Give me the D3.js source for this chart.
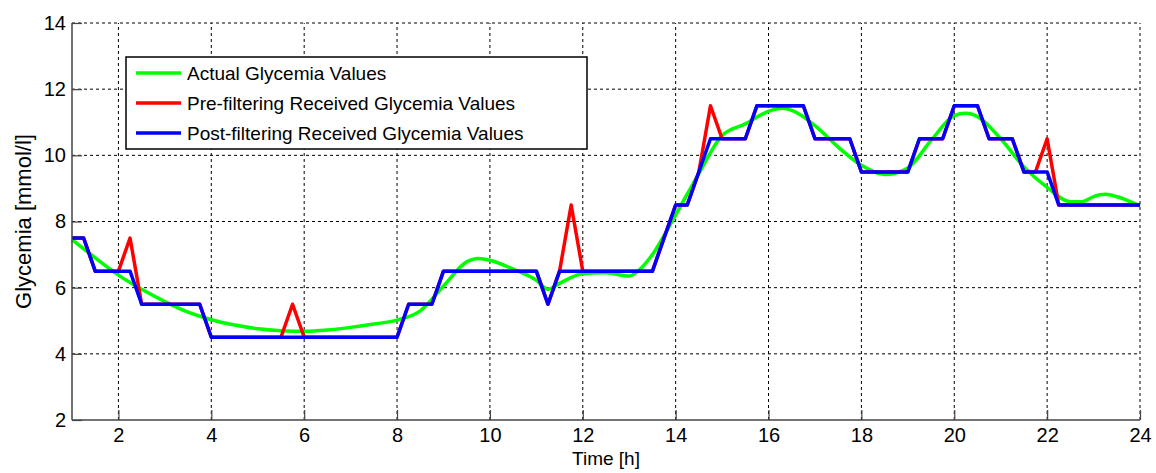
<!DOCTYPE html>
<html>
<head>
<meta charset="utf-8">
<script src="https://cdn.jsdelivr.net/npm/d3@7/dist/d3.min.js"></script>
<style>
  html, body { margin: 0; padding: 0; background: #fff; }
  svg { display: block; font-family: "Liberation Sans", Arial, sans-serif; }
</style>
</head>
<body>
<svg id="chart" width="1156" height="473"></svg>
<script>
// ---- data ----
const xTicks = [2, 4, 6, 8, 10, 12, 14, 16, 18, 20, 22, 24];
const yTicks = [2, 4, 6, 8, 10, 12, 14];

const actualTime = [1, 1.5, 2, 2.5, 3, 3.5, 4, 4.5, 5, 5.5, 6, 6.5, 7, 7.5, 8, 8.5, 9, 9.5, 9.75, 10, 10.5, 11, 11.25, 11.5, 12, 12.5, 13, 13.25, 13.5, 14, 14.5, 15, 15.5, 16, 16.3, 16.5, 17, 17.5, 18, 18.5, 19, 19.5, 20, 20.25, 20.5, 21, 21.5, 22, 22.5, 22.75, 23, 23.25, 23.5, 24];
const actualValues = [7.45, 6.9, 6.38, 5.95, 5.58, 5.26, 5.03, 4.87, 4.76, 4.70, 4.68, 4.72, 4.80, 4.90, 5.02, 5.30, 6.05, 6.78, 6.88, 6.83, 6.56, 6.22, 5.95, 6.13, 6.42, 6.45, 6.35, 6.58, 7.0, 8.2, 9.45, 10.6, 10.95, 11.33, 11.42, 11.36, 10.9, 10.25, 9.7, 9.42, 9.62, 10.45, 11.2, 11.27, 11.17, 10.5, 9.65, 9.03, 8.6, 8.6, 8.75, 8.82, 8.75, 8.47];

const preTime = [1, 1.25, 1.5, 2, 2.25, 2.5, 3.75, 4, 5.5, 5.75, 6, 8, 8.25, 8.75, 9, 11, 11.25, 11.5, 11.75, 12, 13.5, 14, 14.25, 14.5, 14.75, 15, 15.5, 15.75, 16.75, 17, 17.75, 18, 19, 19.25, 19.75, 20, 20.5, 20.75, 21.25, 21.5, 21.75, 22, 22.25, 24];
const preValues = [7.5, 7.5, 6.5, 6.5, 7.5, 5.5, 5.5, 4.5, 4.5, 5.5, 4.5, 4.5, 5.5, 5.5, 6.5, 6.5, 5.5, 6.5, 8.5, 6.5, 6.5, 8.5, 8.5, 9.5, 11.5, 10.5, 10.5, 11.5, 11.5, 10.5, 10.5, 9.5, 9.5, 10.5, 10.5, 11.5, 11.5, 10.5, 10.5, 9.5, 9.5, 10.5, 8.5, 8.5];

const postTime = [1, 1.25, 1.5, 2.25, 2.5, 3.75, 4, 8, 8.25, 8.75, 9, 11, 11.25, 11.5, 13.5, 14, 14.25, 14.75, 15.5, 15.75, 16.75, 17, 17.75, 18, 19, 19.25, 19.75, 20, 20.5, 20.75, 21.25, 21.5, 22, 22.25, 24];
const postValues = [7.5, 7.5, 6.5, 6.5, 5.5, 5.5, 4.5, 4.5, 5.5, 5.5, 6.5, 6.5, 5.5, 6.5, 6.5, 8.5, 8.5, 10.5, 10.5, 11.5, 11.5, 10.5, 10.5, 9.5, 9.5, 10.5, 10.5, 11.5, 11.5, 10.5, 10.5, 9.5, 9.5, 8.5, 8.5];

const seriesNames = ["Actual Glycemia Values", "Pre-filtering Received Glycemia Values", "Post-filtering Received Glycemia Values"];
const seriesColors = ["#00ff00", "#ff0000", "#0000ff"];

// ---- layout ----
const svg = d3.select("#chart");
const L = 72, R = 1140, T = 23, B = 420;
const x = d3.scaleLinear().domain([1, 24]).range([L, R]);
const y = d3.scaleLinear().domain([2, 14]).range([B, T]);
const tickFont = 20, legendFont = 19, xTitleFont = 19, yTitleFont = 22;

// grid
const grid = svg.append("g");
grid.selectAll("line.vx").data(xTicks).enter().append("line")
  .attr("x1", d => x(d)).attr("x2", d => x(d)).attr("y1", B).attr("y2", T)
  .attr("stroke", "#000").attr("stroke-width", 1).attr("stroke-dasharray", "3,3");
grid.selectAll("line.hy").data(yTicks.filter(d => d > 2)).enter().append("line")
  .attr("y1", d => y(d)).attr("y2", d => y(d)).attr("x1", L).attr("x2", R)
  .attr("stroke", "#000").attr("stroke-width", 1).attr("stroke-dasharray", "3,3");

// lines
const pts = (t, v) => t.map((d, i) => [d, v[i]]);
const lineStraight = d3.line().x(d => x(d[0])).y(d => y(d[1]));
const lineSmooth = d3.line().x(d => x(d[0])).y(d => y(d[1])).curve(d3.curveMonotoneX);

svg.append("path").datum(pts(actualTime, actualValues)).attr("d", lineSmooth)
  .attr("fill", "none").attr("stroke", seriesColors[0]).attr("stroke-width", 3.5);
svg.append("path").datum(pts(preTime, preValues)).attr("d", lineStraight)
  .attr("fill", "none").attr("stroke", seriesColors[1]).attr("stroke-width", 3.5).attr("stroke-linejoin", "round");
svg.append("path").datum(pts(postTime, postValues)).attr("d", lineStraight)
  .attr("fill", "none").attr("stroke", seriesColors[2]).attr("stroke-width", 3.5).attr("stroke-linejoin", "round");

// axes
const axColor = "#444";
const xAxis = d3.axisBottom(x).tickValues(xTicks).tickSize(-10).tickPadding(16).tickFormat(d3.format("d"));
const yAxis = d3.axisLeft(y).tickValues(yTicks).tickSize(-10).tickPadding(16).tickFormat(d3.format("d"));
const gx = svg.append("g").attr("transform", `translate(0,${B})`).call(xAxis);
const gy = svg.append("g").attr("transform", `translate(${L},0)`).call(yAxis);
[gx, gy].forEach(g => {
  g.select(".domain").attr("stroke", axColor).attr("stroke-width", 1.5);
  g.selectAll(".tick line").attr("stroke", axColor).attr("stroke-width", 1.2);
  g.selectAll(".tick text").attr("fill", "#000").style("font-size", tickFont + "px")
    .style("font-family", '"Liberation Sans", Arial, sans-serif');
});
gx.select(".domain").attr("d", `M${L},0H${R}`);
gy.select(".domain").attr("d", `M0,${B}V${T}`);
gx.selectAll(".tick text").attr("dy", "0").attr("y", 22);
gy.selectAll(".tick text").attr("x", -6);

// axis titles
svg.append("text").attr("x", (L + R) / 2).attr("y", 465).attr("text-anchor", "middle")
  .style("font-size", xTitleFont + "px").text("Time [h]");
svg.append("text").attr("transform", `translate(31,${(T + B) / 2}) rotate(-90)`)
  .attr("text-anchor", "middle").style("font-size", yTitleFont + "px").text("Glycemia [mmol/l]");

// legend
const lg = svg.append("g");
lg.append("rect").attr("x", 126).attr("y", 57).attr("width", 461).attr("height", 92)
  .attr("fill", "#fff").attr("stroke", "#000").attr("stroke-width", 1.5);
const rows = [73, 103, 133];
seriesNames.forEach((name, i) => {
  lg.append("line").attr("x1", 136).attr("x2", 181).attr("y1", rows[i]).attr("y2", rows[i])
    .attr("stroke", seriesColors[i]).attr("stroke-width", 3.5);
  lg.append("text").attr("x", 187).attr("y", rows[i]).attr("dy", "0.35em")
    .style("font-size", legendFont + "px").text(name);
});
</script>
</body>
</html>
